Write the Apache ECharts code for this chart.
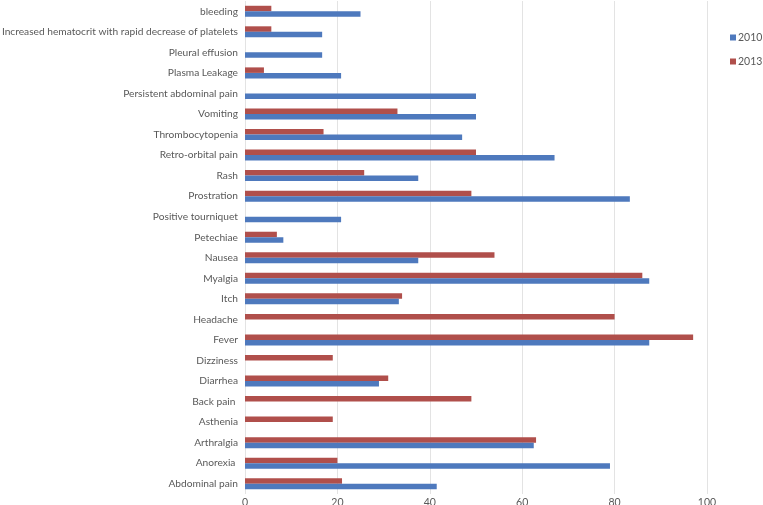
<!DOCTYPE html>
<html><head><meta charset="utf-8">
<script src="https://cdn.jsdelivr.net/npm/echarts@6/dist/echarts.min.js"></script>
<style>html,body{margin:0;padding:0;background:#fff}#c{width:763px;height:505px}</style>
</head><body><div id="c"></div>
<script>
const categories = ["Abdominal pain","Anorexia ","Arthralgia","Asthenia","Back pain ","Diarrhea","Dizziness","Fever","Headache","Itch","Myalgia","Nausea","Petechiae","Positive tourniquet","Prostration","Rash","Retro-orbital pain","Thrombocytopenia","Vomiting","Persistent abdominal pain","Plasma Leakage","Pleural effusion","Increased hematocrit with rapid decrease of platelets","bleeding"];
const values2010 = [41.5,79,62.5,null,null,29,null,87.5,null,33.3,87.5,37.5,8.3,20.8,83.3,37.5,67,47,50,50,20.8,16.7,16.7,25];
const values2013 = [21,20,63,19,49,31,19,97,80,34,86,54,6.9,null,49,25.8,50,17,33,null,4.1,null,5.7,5.7];
const xTicks = [0,20,40,60,80,100];

const chart = echarts.init(document.getElementById('c'));
const font = 'Lato';
chart.setOption({
  animation:false,
  grid:{left:245,right:56,top:1,bottom:11,containLabel:false,outerBoundsMode:'none'},
  legend:{data:['2010','2013'],orient:'vertical',left:730,top:32,itemWidth:6,itemHeight:6,itemGap:13,padding:0,
    icon:'rect',textStyle:{fontFamily:font,fontSize:10.5,color:'#595959',padding:[0,0,0,-3]}},
  xAxis:{type:'value',min:xTicks[0],max:xTicks[xTicks.length-1],interval:20,
    axisLine:{show:false},axisTick:{show:false},
    axisLabel:{fontFamily:font,fontSize:10.5,color:'#595959',margin:3},
    splitLine:{show:true,lineStyle:{color:'#e3e3e3',width:1}}},
  yAxis:{type:'category',data:categories,
    axisLine:{show:false},axisTick:{show:false},
    axisLabel:{fontFamily:font,fontSize:10.2,color:'#595959',margin:7,interval:0}},
  series:[
    {name:'2013',type:'bar',data:values2013,barWidth:5.5,barGap:'0%',itemStyle:{color:'#B04F4B'}},
    {name:'2010',type:'bar',data:values2010,barWidth:5.5,barGap:'0%',itemStyle:{color:'#4E79BD'}}
  ]
});
</script></body></html>
